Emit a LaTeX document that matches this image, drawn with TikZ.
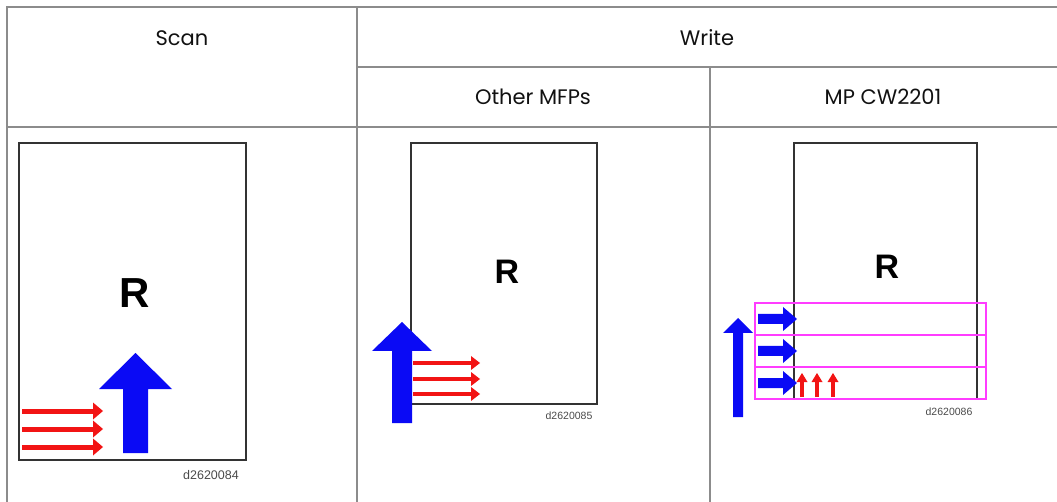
\documentclass[tikz,border=0pt]{standalone}
\usepackage{fontspec}
\setmainfont{Poppins}
\newfontfamily\arialfont{Liberation Sans}
\usetikzlibrary{arrows.meta}
\definecolor{rulegray}{HTML}{8C8C8C}
\definecolor{inkgray}{HTML}{111111}
\definecolor{sheetgray}{HTML}{333333}
\definecolor{taggray}{HTML}{4A4A4A}
\definecolor{bluefeed}{HTML}{0A0AF5}
\definecolor{redscan}{HTML}{F21414}
\definecolor{bandpink}{HTML}{FF3CFF}
\tikzset{
  cell/.style={
    draw = rulegray,
    line width = 1.5pt
  },
  head/.style={
    font = \fontsize{21}{25}\selectfont,
    text = inkgray,
    inner sep = 0pt
  },
  sheet/.style={
    draw = sheetgray,
    line width = 2pt
  },
  letter/.style={
    font = \arialfont\bfseries\fontsize{42}{42}\selectfont,
    inner sep = 0pt
  },
  letterS/.style={
    font = \arialfont\bfseries\fontsize{34}{34}\selectfont,
    inner sep = 0pt
  },
  tag/.style={
    font = \arialfont\fontsize{12.5}{12.5}\selectfont,
    text = taggray,
    inner sep = 0pt
  },
  tagS/.style={
    font = \arialfont\fontsize{10.5}{10.5}\selectfont,
    text = taggray,
    inner sep = 0pt
  },
  feed/.style={
    fill = bluefeed
  },
  band/.style={
    draw = bandpink,
    line width = 1.2pt
  }
}
\tikzset{
  ray/.style={
    draw = redscan,
    line width = 5pt,
    -{Triangle[length=10pt,width=17pt,line width=0pt]}
  },
  rayS/.style={
    draw = redscan,
    line width = 4pt,
    -{Triangle[length=9pt,width=14pt,line width=0pt]}
  },
  rayT/.style={
    draw = redscan,
    line width = 3.5pt,
    -{Triangle[length=9pt,width=11pt,line width=0pt]}
  }
}

\begin{document}
\begin{tikzpicture}[x=1pt,y=-1pt]
    \useasboundingbox (0,0) rectangle (1057,502);

    % table
    \draw[cell] (1057,7) -- (7,7) -- (7,502);
    \draw[cell] (357,7) -- (357,502);
    \draw[cell] (357,67) -- (1057,67);
    \draw[cell] (710,67) -- (710,502);
    \draw[cell] (7,127) -- (1057,127);

    \node[head] (scan) at (182,38) {Scan};
    \node[head] (write) at (707,38) {Write};
    \node[head] (other) at (533,97) {Other MFPs};
    \node[head] (mpcw) at (883,97) {MP CW2201};

    % scan
    \draw[sheet] (19,143) rectangle (246,460);
    \node[letter] (rscan) at (135,293) {R};
    \fill[feed] (123,453) -- (148,453) -- (148,389) -- (172,389) -- (135.5,353)
                -- (99,389) -- (123,389) -- cycle;
    \draw[ray] (22,411) -- (103,411);
    \draw[ray] (22,429) -- (103,429);
    \draw[ray] (22,447) -- (103,447);
    \node[tag] (tscan) at (211,475) {d2620084};

    % other MFPs
    \draw[sheet] (411,143) rectangle (597,404);
    \node[letterS] (rother) at (507,272) {R};
    \fill[feed] (392,423) -- (412,423) -- (412,351) -- (432,351) -- (402,322)
                -- (372,351) -- (392,351) -- cycle;
    \draw[rayS] (413,363) -- (480,363);
    \draw[rayS] (413,379) -- (480,379);
    \draw[rayS] (413,394) -- (480,394);
    \node[tagS] (tother) at (569,416) {d2620085};

    % MP CW2201
    \draw[sheet] (794,143) rectangle (977,399);
    \node[letterS] (rmpcw) at (887,267) {R};
    \draw[band] (755,303) rectangle (986,335);
    \draw[band] (755,335) rectangle (986,367);
    \draw[band] (755,367) rectangle (986,399);
    \fill[feed] (733,417) -- (743,417) -- (743,333) -- (753,333) -- (738,318)
                -- (723,333) -- (733,333) -- cycle;
    \fill[feed] (758,314) -- (783,314) -- (783,307) -- (797,319) -- (783,331)
                -- (783,324) -- (758,324) -- cycle;
    \fill[feed] (758,346) -- (783,346) -- (783,339) -- (797,351) -- (783,363)
                -- (783,356) -- (758,356) -- cycle;
    \fill[feed] (758,378) -- (783,378) -- (783,371) -- (797,383) -- (783,395)
                -- (783,388) -- (758,388) -- cycle;
    \draw[rayT] (802,397) -- (802,373);
    \draw[rayT] (817,397) -- (817,373);
    \draw[rayT] (833,397) -- (833,373);
    \node[tagS] (tmpcw) at (949,412) {d2620086};
\end{tikzpicture}
\end{document}
